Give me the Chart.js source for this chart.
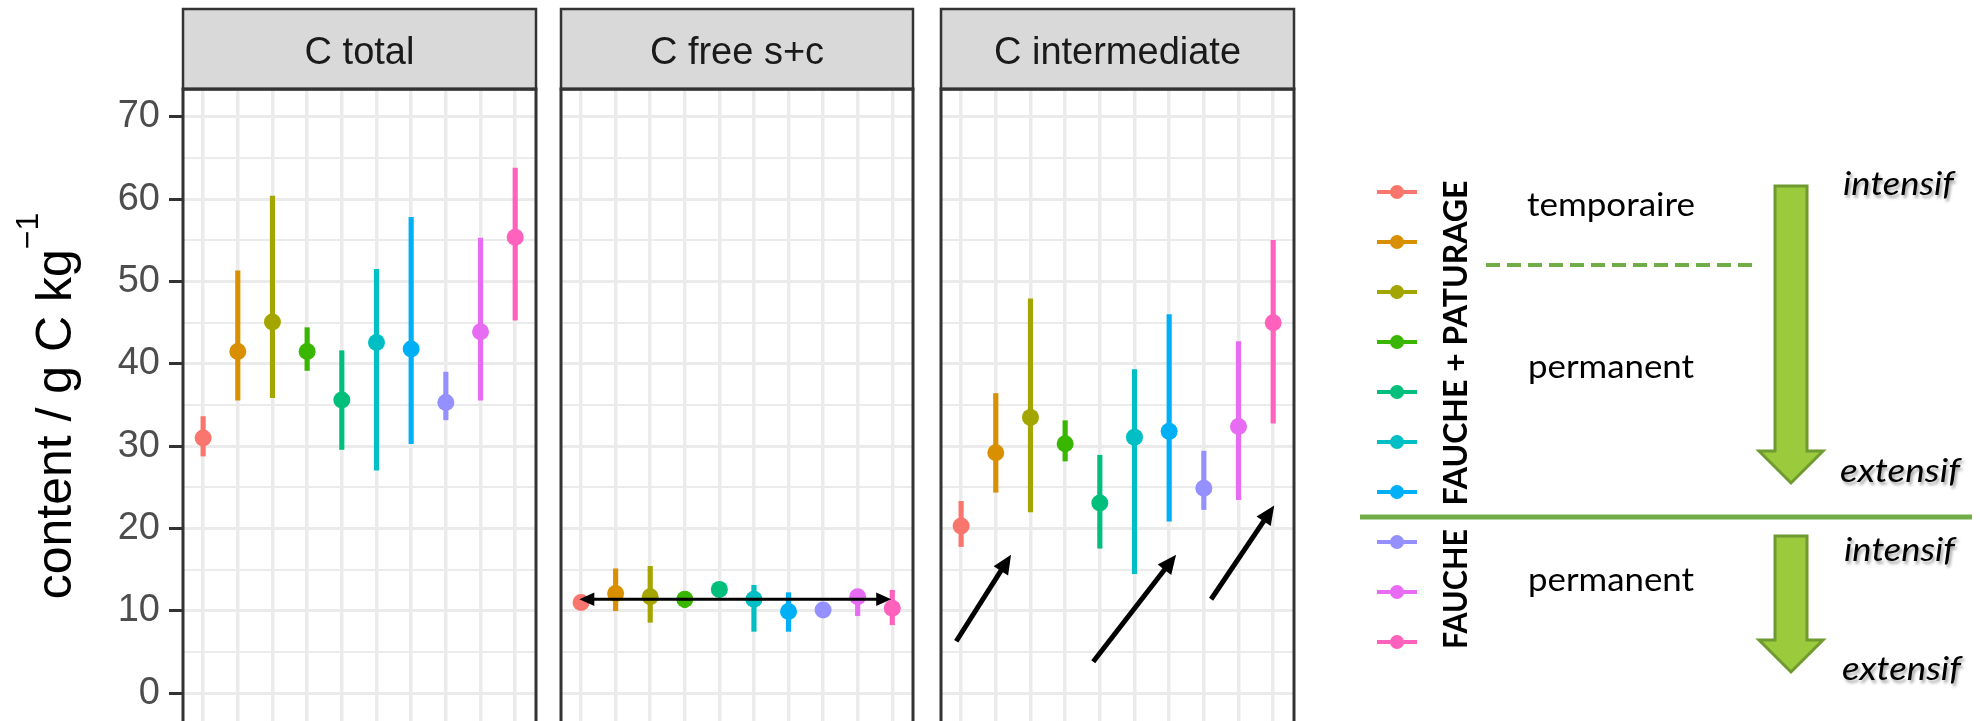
<!DOCTYPE html>
<html>
<head>
<meta charset="utf-8">
<script src="https://cdn.jsdelivr.net/npm/chart.js@4.4.1/dist/chart.umd.min.js"></script>
<style>
  html, body { margin: 0; padding: 0; background: #fff; }
  body { width: 1980px; height: 721px; overflow: hidden; position: relative; }
  canvas.panel { position: absolute; top: 0; }
  #p1 { left: 0; }
  #p2 { left: 551px; }
  #p3 { left: 931px; }
  #key { position: absolute; left: 0; top: 0; }
  #key text { font-family: Lato, "Open Sans", sans-serif; fill: #000; }
</style>
</head>
<body>
<canvas id="p1" class="panel" width="560" height="766"></canvas>
<canvas id="p2" class="panel" width="372" height="766"></canvas>
<canvas id="p3" class="panel" width="373" height="766"></canvas>

<svg id="key" width="1980" height="721" xmlns="http://www.w3.org/2000/svg">
  <defs>
    <filter id="shadow" x="-10%" y="-30%" width="130%" height="180%">
      <feDropShadow dx="2" dy="3" stdDeviation="1.5" flood-color="#000" flood-opacity="0.35"/>
    </filter>
  </defs>
  <!-- y axis title -->
  <text x="71" y="406" transform="rotate(-90 71 406)" text-anchor="middle"
        style="font-family:'Liberation Sans', Arial, sans-serif; font-size:50px">content / g C kg<tspan dy="-33" font-size="32">−1</tspan></text>

  <g id="swatches"></g>

  <text x="1467" y="343" transform="rotate(-90 1467 343)" text-anchor="middle" font-weight="bold"
        font-size="33" textLength="325" lengthAdjust="spacingAndGlyphs">FAUCHE + PATURAGE</text>
  <text x="1467" y="589" transform="rotate(-90 1467 589)" text-anchor="middle" font-weight="bold"
        font-size="33" textLength="120" lengthAdjust="spacingAndGlyphs">FAUCHE</text>

  <text x="1527" y="216" font-size="33" textLength="168" lengthAdjust="spacingAndGlyphs">temporaire</text>
  <text x="1528" y="378" font-size="33" textLength="166" lengthAdjust="spacingAndGlyphs">permanent</text>
  <text x="1528" y="591" font-size="33" textLength="166" lengthAdjust="spacingAndGlyphs">permanent</text>

  <line x1="1486" y1="265" x2="1755" y2="265" stroke="#70ad47" stroke-width="4" stroke-dasharray="14 7"/>
  <line x1="1360" y1="517" x2="1972" y2="517" stroke="#70ad47" stroke-width="5"/>

  <path d="M1775 186 H1807 V451 H1823 L1791 483 L1759 451 H1775 Z" fill="#9bcb3c" stroke="#6f9a30" stroke-width="3"/>
  <path d="M1775 536 H1807 V640 H1823 L1791 672 L1759 640 H1775 Z" fill="#9bcb3c" stroke="#6f9a30" stroke-width="3"/>

  <g filter="url(#shadow)" font-style="italic" font-size="33">
    <text x="1843" y="195" textLength="111" lengthAdjust="spacingAndGlyphs">intensif</text>
    <text x="1840" y="482" textLength="120" lengthAdjust="spacingAndGlyphs">extensif</text>
    <text x="1844" y="561" textLength="111" lengthAdjust="spacingAndGlyphs">intensif</text>
    <text x="1842" y="680" textLength="119" lengthAdjust="spacingAndGlyphs">extensif</text>
  </g>
</svg>

<script>
// ten management treatments, ggplot hue palette
const treatments = ['T1', 'T2', 'T3', 'T4', 'T5', 'T6', 'T7', 'T8', 'T9', 'T10'];
const colours = ['#F8766D', '#D89000', '#A3A500', '#39B600', '#00BF7D',
                 '#00BFC4', '#00B0F6', '#9590FF', '#E76BF3', '#FF62BC'];

// C total (g C / kg): mean and interval
const totalMean = [31.0, 41.5, 45.1, 41.5, 35.6, 42.6, 41.8, 35.3, 43.9, 55.4];
const totalLow  = [28.8, 35.6, 35.9, 39.2, 29.6, 27.1, 30.3, 33.2, 35.6, 45.3];
const totalHigh = [33.6, 51.3, 60.4, 44.4, 41.6, 51.5, 57.8, 39.0, 55.3, 63.8];

// C free s+c
const freeMean = [11.0, 12.1, 11.7, 11.4, 12.6, 11.4, 9.9, 10.1, 11.7, 10.3];
const freeLow  = [10.5, 10.0, 8.6, 10.4, 12.0, 7.5, 7.5, 9.6, 9.4, 8.3];
const freeHigh = [11.5, 15.1, 15.4, 12.1, 13.2, 13.1, 12.2, 10.6, 12.5, 12.5];

// C intermediate
const interMean = [20.3, 29.2, 33.5, 30.3, 23.1, 31.1, 31.8, 24.9, 32.4, 45.0];
const interLow  = [17.8, 24.4, 22.0, 28.2, 17.6, 14.5, 20.9, 22.3, 23.5, 32.8];
const interHigh = [23.3, 36.4, 47.9, 33.1, 28.9, 39.3, 46.0, 29.4, 42.7, 55.0];

// y grid: labelled major lines every 10, minor lines in between
const yTickValues = [0, 5, 10, 15, 20, 25, 30, 35, 40, 45, 50, 55, 60, 65, 70];
const yLabelEvery = 10;
const yMin = -4, yMax = 73.4;

// black arrows drawn over the panels, in data units
const freeArrows = [{ from: [-0.05, 11.4], to: [8.97, 11.4], both: true, width: 3, head: 15 }];
const interArrows = [
  { from: [-0.14, 6.3], to: [1.44, 16.8], width: 5, head: 19 },
  { from: [3.81, 3.8], to: [6.2, 16.8], width: 5, head: 19 },
  { from: [7.21, 11.4], to: [9.03, 22.8], width: 5, head: 19 }
];

const font = '"Liberation Sans", Arial, sans-serif';

function arrowHead(ctx, x, y, ux, uy, len) {
  const w = len * 0.45;
  ctx.beginPath();
  ctx.moveTo(x, y);
  ctx.lineTo(x - ux * len - uy * w, y - uy * len + ux * w);
  ctx.lineTo(x - ux * len + uy * w, y - uy * len - ux * w);
  ctx.closePath();
  ctx.fill();
}

// facet strip, panel border and the arrow annotations
const facetPlugin = {
  id: 'facet',
  afterDatasetsDraw(chart, args, opts) {
    const { ctx, chartArea: a, scales } = chart;
    ctx.save();

    ctx.strokeStyle = '#000';
    ctx.fillStyle = '#000';
    (opts.arrows || []).forEach(ar => {
      const x0 = scales.x.getPixelForValue(ar.from[0]);
      const y0 = scales.y.getPixelForValue(ar.from[1]);
      const x1 = scales.x.getPixelForValue(ar.to[0]);
      const y1 = scales.y.getPixelForValue(ar.to[1]);
      const d = Math.hypot(x1 - x0, y1 - y0);
      const ux = (x1 - x0) / d, uy = (y1 - y0) / d;
      const sx = ar.both ? x0 + ux * ar.head * 0.8 : x0;
      const sy = ar.both ? y0 + uy * ar.head * 0.8 : y0;
      ctx.lineWidth = ar.width;
      ctx.beginPath();
      ctx.moveTo(sx, sy);
      ctx.lineTo(x1 - ux * ar.head * 0.8, y1 - uy * ar.head * 0.8);
      ctx.stroke();
      arrowHead(ctx, x1, y1, ux, uy, ar.head);
      if (ar.both) arrowHead(ctx, x0, y0, -ux, -uy, ar.head);
    });

    ctx.strokeStyle = '#333333';
    ctx.lineWidth = 3;
    ctx.strokeRect(a.left, a.top, a.right - a.left, a.bottom - a.top);

    ctx.fillStyle = '#d9d9d9';
    ctx.fillRect(a.left, 9, a.right - a.left, a.top - 9);
    ctx.lineWidth = 2.5;
    ctx.strokeRect(a.left, 9, a.right - a.left, a.top - 9);
    ctx.lineWidth = 3;
    ctx.beginPath();
    ctx.moveTo(a.left, a.top);
    ctx.lineTo(a.right, a.top);
    ctx.stroke();

    ctx.fillStyle = '#1a1a1a';
    ctx.font = '38px ' + font;
    ctx.textAlign = 'center';
    ctx.textBaseline = 'alphabetic';
    ctx.fillText(opts.title, (a.left + a.right) / 2, 64);
    ctx.restore();
  }
};

function buildPanel(id, title, mean, low, high, arrows, withAxis) {
  return new Chart(document.getElementById(id), {
    type: 'scatter',
    data: {
      labels: treatments,
      datasets: [
        {
          type: 'bar',
          data: low.map((l, i) => ({ x: i, y: [l, high[i]] })),
          backgroundColor: colours,
          borderWidth: 0,
          barThickness: 4.5,
          order: 2
        },
        {
          type: 'scatter',
          data: mean.map((m, i) => ({ x: i, y: m })),
          pointRadius: 8.5,
          pointBackgroundColor: colours,
          pointBorderWidth: 0,
          order: 1
        }
      ]
    },
    options: {
      responsive: false,
      animation: false,
      events: [],
      layout: { padding: { left: withAxis ? 0 : 10, right: withAxis ? 24 : 10, top: 89, bottom: 40 } },
      plugins: {
        legend: { display: false },
        tooltip: { enabled: false },
        facet: { title: title, arrows: arrows }
      },
      scales: {
        x: {
          type: 'linear',
          min: -0.58,
          max: 9.6,
          offset: false,
          ticks: { display: false },
          afterBuildTicks: s => { s.ticks = treatments.map((t, i) => ({ value: i })); },
          grid: { offset: false, drawTicks: false, lineWidth: 3.5, color: '#ebebeb' },
          border: { display: false },
          afterFit: s => { s.height = 0; }
        },
        y: {
          min: yMin,
          max: yMax,
          afterBuildTicks: s => { s.ticks = yTickValues.map(v => ({ value: v })); },
          ticks: {
            display: withAxis,
            autoSkip: false,
            padding: 9,
            color: '#4d4d4d',
            font: { family: font, size: 38 },
            callback: v => (v % yLabelEvery === 0 ? String(v) : '')
          },
          grid: {
            drawTicks: withAxis,
            tickLength: 14,
            tickWidth: 3,
            color: '#ebebeb',
            lineWidth: c => (c.tick.value % yLabelEvery === 0 ? 3 : 2),
            tickColor: c => (c.tick.value % yLabelEvery === 0 ? '#333333' : 'transparent')
          },
          border: { display: false },
          afterFit: s => { s.width = withAxis ? 183 : 0; }
        }
      }
    },
    plugins: [facetPlugin]
  });
}

buildPanel('p1', 'C total', totalMean, totalLow, totalHigh, [], true);
buildPanel('p2', 'C free s+c', freeMean, freeLow, freeHigh, freeArrows, false);
buildPanel('p3', 'C intermediate', interMean, interLow, interHigh, interArrows, false);

// legend keys: one short line with a dot per treatment
const swatches = document.getElementById('swatches');
const svgNS = 'http://www.w3.org/2000/svg';
colours.forEach((c, i) => {
  const y = 192 + i * 50;
  const line = document.createElementNS(svgNS, 'line');
  line.setAttribute('x1', 1377); line.setAttribute('x2', 1417);
  line.setAttribute('y1', y); line.setAttribute('y2', y);
  line.setAttribute('stroke', c); line.setAttribute('stroke-width', 4);
  swatches.appendChild(line);
  const dot = document.createElementNS(svgNS, 'circle');
  dot.setAttribute('cx', 1397); dot.setAttribute('cy', y); dot.setAttribute('r', 7);
  dot.setAttribute('fill', c);
  swatches.appendChild(dot);
});
</script>
</body>
</html>
